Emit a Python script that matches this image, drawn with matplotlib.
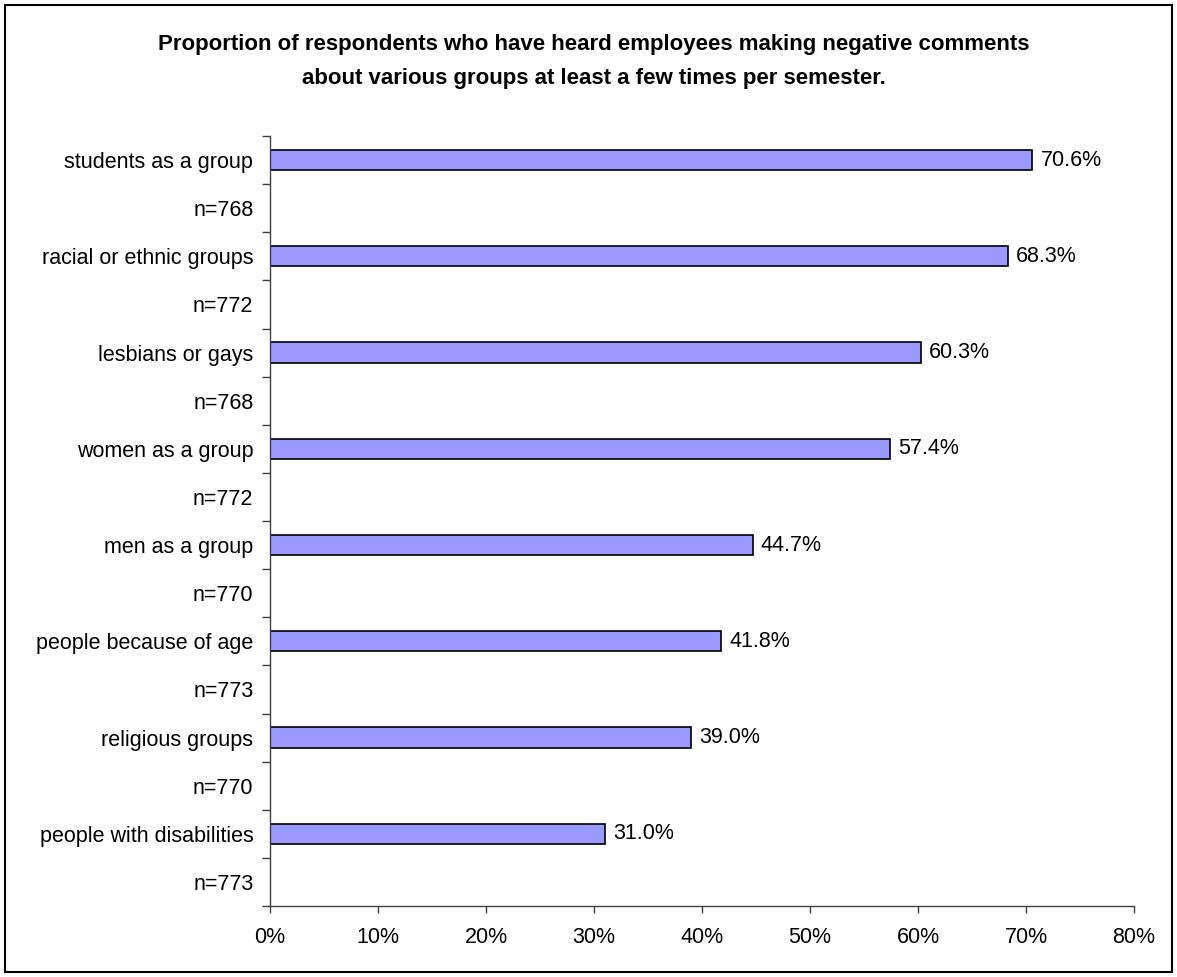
import numpy as np
import matplotlib.pyplot as plt
from matplotlib.patches import Rectangle

plt.rcParams['font.family'] = ['Liberation Sans', 'DejaVu Sans']

# groups from top to bottom, with the number of respondents for each
groups = ['students as a group', 'racial or ethnic groups', 'lesbians or gays',
          'women as a group', 'men as a group', 'people because of age',
          'religious groups', 'people with disabilities']
n_resp = [768, 772, 768, 772, 770, 773, 770, 773]
percent = [70.6, 68.3, 60.3, 57.4, 44.7, 41.8, 39.0, 31.0]

title_lines = ['Proportion of respondents who have heard employees making negative comments',
               'about various groups at least a few times per semester.']

fig = plt.figure(figsize=(11.77, 9.77), dpi=100)
ax = fig.add_axes([270/1177, 71/977, 864/1177, 770/977])

# each group takes two rows: the bar row and the "n=" row below it
labels = []
for g, n in zip(groups, n_resp):
    labels += [g, 'n=%d' % n]
rows = np.arange(len(labels))
bar_rows = rows[::2]

ax.barh(bar_rows, percent, height=0.42, color='#9999FF', edgecolor='black', linewidth=1.2)
for y, v in zip(bar_rows, percent):
    ax.text(v + 0.75, y, '%.1f%%' % v, va='center', ha='left', fontsize=15.5)

ax.set_xlim(0, 80)
ax.set_ylim(len(labels) - 0.5, -0.5)
ax.set_xticks(np.arange(0, 81, 10))
ax.set_xticklabels(['%d%%' % t for t in range(0, 81, 10)], fontsize=15.5)
ax.set_yticks(rows)
ax.set_yticklabels(labels, fontsize=15.5)
ax.set_yticks(np.arange(-0.5, len(labels), 1), minor=True)
ax.tick_params(axis='y', which='major', length=0, pad=12)
ax.tick_params(axis='y', which='minor', length=6, width=1, color='#404040', direction='out')
ax.tick_params(axis='x', length=5, width=1, color='#404040', pad=10)

for side in ['top', 'right']:
    ax.spines[side].set_visible(False)
for side in ['left', 'bottom']:
    ax.spines[side].set_color('#404040')
    ax.spines[side].set_linewidth(1)

for line, ypix in zip(title_lines, [50, 84]):
    fig.text(594/1177, 1 - ypix/977, line, ha='center', va='baseline', fontsize=16,
             fontweight='bold')

# outer frame
fig.patches.append(Rectangle((5/1177, 5/977), 1167/1177, 967/977, transform=fig.transFigure,
                             fill=False, edgecolor='black', linewidth=1.5))

fig.savefig('out.png', dpi=100)
